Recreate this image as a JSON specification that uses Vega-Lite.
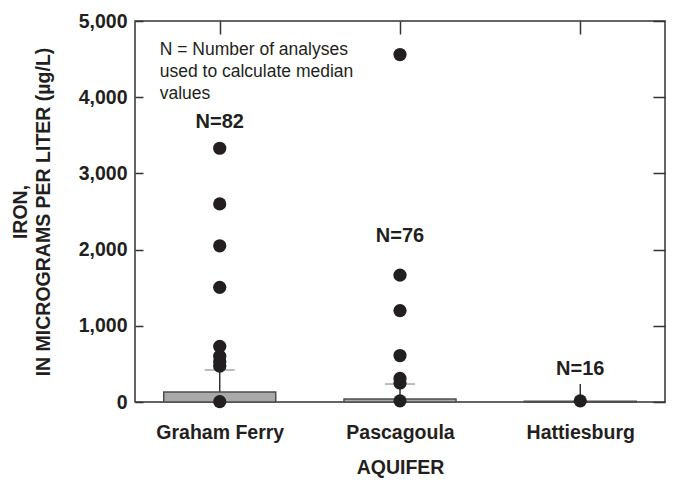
{
  "$schema": "https://vega.github.io/schema/vega-lite/v6.json",
  "width": 530,
  "height": 381,
  "autosize": {"type": "none"},
  "padding": {"left": 135, "top": 21, "right": 10, "bottom": 80},
  "background": "white",
  "config": {
    "font": "Liberation Sans",
    "view": {"stroke": "#333333", "strokeWidth": 1.5},
    "axis": {
      "domain": false,
      "labelFont": "Liberation Sans",
      "labelFontWeight": "bold",
      "labelFontSize": 19.5,
      "labelColor": "#231f20",
      "titleFont": "Liberation Sans",
      "titleFontWeight": "bold",
      "titleFontSize": 19.5,
      "titleColor": "#231f20",
      "tickColor": "#333333",
      "tickWidth": 1.5,
      "grid": false
    }
  },
  "datasets": {
    "boxes": [
      {"aquifer": "Graham Ferry", "q1": 0, "q3": 130, "whisker": 420, "cap": 420},
      {"aquifer": "Pascagoula", "q1": 0, "q3": 40, "whisker": 236, "cap": 236},
      {"aquifer": "Hattiesburg", "q1": 0, "q3": 10, "whisker": 236, "cap": null}
    ],
    "points": [
      {"aquifer": "Graham Ferry", "iron": 3330},
      {"aquifer": "Graham Ferry", "iron": 2600},
      {"aquifer": "Graham Ferry", "iron": 2050},
      {"aquifer": "Graham Ferry", "iron": 1505},
      {"aquifer": "Graham Ferry", "iron": 730},
      {"aquifer": "Graham Ferry", "iron": 600},
      {"aquifer": "Graham Ferry", "iron": 530},
      {"aquifer": "Graham Ferry", "iron": 470},
      {"aquifer": "Graham Ferry", "iron": 5},
      {"aquifer": "Pascagoula", "iron": 4560},
      {"aquifer": "Pascagoula", "iron": 1665},
      {"aquifer": "Pascagoula", "iron": 1200},
      {"aquifer": "Pascagoula", "iron": 610},
      {"aquifer": "Pascagoula", "iron": 310},
      {"aquifer": "Pascagoula", "iron": 250},
      {"aquifer": "Pascagoula", "iron": 15},
      {"aquifer": "Hattiesburg", "iron": 15}
    ],
    "labels": [
      {"aquifer": "Graham Ferry", "y": 3675, "label": "N=82"},
      {"aquifer": "Pascagoula", "y": 2180, "label": "N=76"},
      {"aquifer": "Hattiesburg", "y": 435, "label": "N=16"}
    ],
    "note": [
      {"aquifer": "Graham Ferry", "y": 4740, "label": ["N = Number of analyses", "used to calculate median", "values"]}
    ]
  },
  "layer": [
    {
      "data": {"name": "boxes"},
      "mark": {"type": "rule", "color": "#333333", "strokeWidth": 1.5},
      "encoding": {
        "x": {"field": "aquifer", "type": "nominal", "sort": ["Graham Ferry", "Pascagoula", "Hattiesburg"],
              "scale": {"type": "point", "padding": 0.47},
              "axis": {"orient": "bottom", "title": "AQUIFER", "labelAngle": 0, "ticks": false, "labelPadding": 21, "titlePadding": 17}},
        "y": {"field": "q3", "type": "quantitative", "scale": {"domain": [0, 5000], "nice": false},
              "axis": {"orient": "left", "format": ",d", "values": [0, 1000, 2000, 3000, 4000, 5000], "tickSize": -8, "labelPadding": 16,
                       "title": ["IRON,", "IN MICROGRAMS PER LITER (µg/L)"], "titlePadding": 25, "titleLineHeight": 23}},
        "y2": {"field": "whisker"}
      }
    },
    {
      "data": {"name": "boxes"},
      "mark": {"type": "bar", "size": 112, "fill": "#a9a9a9", "stroke": "#4d4d4d", "strokeWidth": 1.5},
      "encoding": {
        "x": {"field": "aquifer", "type": "nominal", "sort": ["Graham Ferry", "Pascagoula", "Hattiesburg"],
              "axis": {"orient": "top", "labels": false, "title": null, "tickSize": -13}},
        "y": {"field": "q1", "type": "quantitative",
              "axis": {"orient": "right", "labels": false, "title": null, "values": [0, 1000, 2000, 3000, 4000, 5000], "tickSize": -12}},
        "y2": {"field": "q3"}
      }
    },
    {
      "data": {"name": "boxes"},
      "mark": {"type": "tick", "size": 30, "thickness": 1.5, "color": "#808080"},
      "encoding": {
        "x": {"field": "aquifer", "type": "nominal", "sort": ["Graham Ferry", "Pascagoula", "Hattiesburg"], "axis": null},
        "y": {"field": "cap", "type": "quantitative", "axis": null}
      }
    },
    {
      "data": {"name": "points"},
      "mark": {"type": "circle", "size": 175, "color": "#231f20", "opacity": 1},
      "encoding": {
        "x": {"field": "aquifer", "type": "nominal", "sort": ["Graham Ferry", "Pascagoula", "Hattiesburg"], "axis": null},
        "y": {"field": "iron", "type": "quantitative", "axis": null}
      }
    },
    {
      "data": {"name": "labels"},
      "mark": {"type": "text", "fontSize": 20, "fontWeight": "bold", "color": "#231f20", "baseline": "middle"},
      "encoding": {
        "x": {"field": "aquifer", "type": "nominal", "sort": ["Graham Ferry", "Pascagoula", "Hattiesburg"], "axis": null},
        "y": {"field": "y", "type": "quantitative", "axis": null},
        "text": {"field": "label"}
      }
    },
    {
      "data": {"name": "note"},
      "mark": {"type": "text", "fontSize": 17.5, "color": "#231f20", "align": "left", "baseline": "top", "dx": -60, "lineHeight": 22},
      "encoding": {
        "x": {"field": "aquifer", "type": "nominal", "sort": ["Graham Ferry", "Pascagoula", "Hattiesburg"], "axis": null},
        "y": {"field": "y", "type": "quantitative", "axis": null},
        "text": {"field": "label"}
      }
    }
  ],
  "resolve": {"axis": {"x": "independent", "y": "independent"}}
}
